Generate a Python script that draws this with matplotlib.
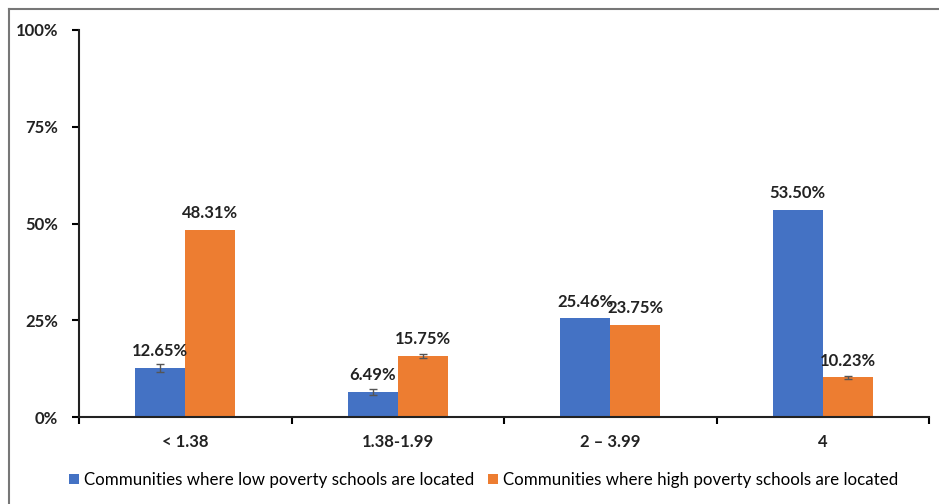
import numpy as np
import matplotlib
matplotlib.use("Agg")
import matplotlib.pyplot as plt
from matplotlib.lines import Line2D

plt.rcParams['font.family'] = ['Lato', 'DejaVu Sans']

categories = ["< 1.38", "1.38-1.99", "2 \u2013 3.99", "4"]
low_poverty = [12.65, 6.49, 25.46, 53.50]
high_poverty = [48.31, 15.75, 23.75, 10.23]
low_err = [1.0, 0.8, 0.0, 0.0]
high_err = [0.0, 0.4, 0.0, 0.3]
series_names = ["Communities where low poverty schools are located",
                "Communities where high poverty schools are located"]

blue = "#4472C4"
orange = "#ED7D31"

fig = plt.figure(figsize=(9.39, 5.04), dpi=100)
ax = fig.add_axes([79/939, 1 - 417/504, (929 - 79)/939, (417 - 30)/504])

x = np.arange(len(categories))
w = 0.235
b1 = ax.bar(x - w/2, low_poverty, w, color=blue, label=series_names[0],
            yerr=[e if e > 0 else np.nan for e in low_err],
            error_kw=dict(ecolor="#555555", capsize=3, elinewidth=1))
b2 = ax.bar(x + w/2, high_poverty, w, color=orange, label=series_names[1],
            yerr=[e if e > 0 else np.nan for e in high_err],
            error_kw=dict(ecolor="#555555", capsize=3, elinewidth=1))

# value labels above bars
for xs, vals in ((x - w/2, low_poverty), (x + w/2, high_poverty)):
    for xi, v in zip(xs, vals):
        ax.text(xi, v + 2.3, "%.2f%%" % v, ha="center", va="bottom",
                fontsize=12, fontweight="bold", color="#222222")

ax.set_xlim(-0.5, len(categories) - 0.5)
ax.set_ylim(0, 100)
ax.set_yticks([0, 25, 50, 75, 100])
ax.set_yticklabels(["0%", "25%", "50%", "75%", "100%"])
ax.set_xticks(x)
ax.set_xticklabels(categories)
ax.set_xticks(np.arange(-0.5, len(categories)), minor=True)
ax.tick_params(axis="x", which="major", length=0, pad=12, labelsize=12)
ax.tick_params(axis="x", which="minor", length=5, width=1.5, direction="out")
ax.tick_params(axis="y", length=5, width=1.5, direction="out", pad=10, labelsize=12)
for lab in ax.get_xticklabels() + ax.get_yticklabels():
    lab.set_fontweight("bold")
    lab.set_color("#222222")

for s in ("top", "right"):
    ax.spines[s].set_visible(False)
for s in ("left", "bottom"):
    ax.spines[s].set_linewidth(1.5)
    ax.spines[s].set_color("#222222")

fig.legend(handles=[b1, b2], labels=series_names, loc="center",
           bbox_to_anchor=(0.515, 1 - 480/504), ncol=2, frameon=False,
           fontsize=12.2, handlelength=0.6, handleheight=0.6,
           handletextpad=0.3, columnspacing=0.8)

# outer frame (top and left edges)
fig.add_artist(Line2D([9/939, 1], [1 - 9/504, 1 - 9/504], color="#777777", lw=1.5))
fig.add_artist(Line2D([9/939, 9/939], [0, 1 - 9/504], color="#777777", lw=1.5))

fig.savefig("out.png", dpi=100)
